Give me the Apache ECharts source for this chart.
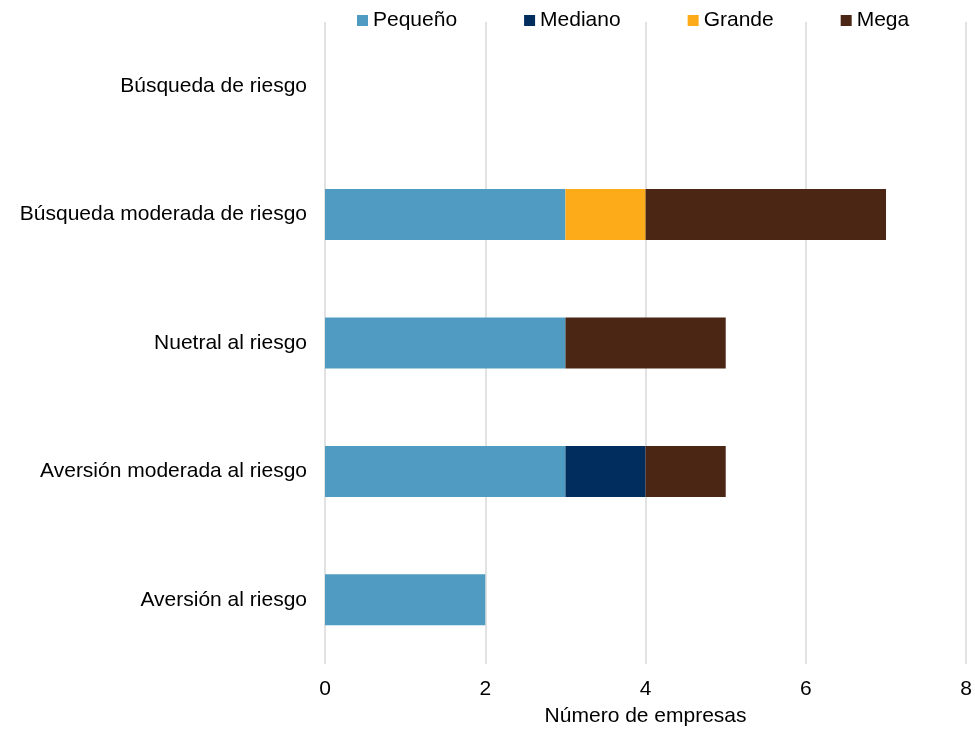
<!DOCTYPE html>
<html>
<head>
<meta charset="utf-8">
<script src="https://cdn.jsdelivr.net/npm/echarts@6/dist/echarts.min.js"></script>
<style>
  html, body { margin: 0; padding: 0; background: #fff; }
  #chart { width: 975px; height: 732px; }
</style>
</head>
<body>
<div id="chart"></div>
<script>
// Risk profile categories, listed top to bottom
const categories = [
  'Búsqueda de riesgo',
  'Búsqueda moderada de riesgo',
  'Nuetral al riesgo',
  'Aversión moderada al riesgo',
  'Aversión al riesgo'
];
// Number of companies per size group
const pequeno = [0, 3, 3, 3, 2];
const mediano = [0, 0, 0, 1, 0];
const grande  = [0, 1, 0, 0, 0];
const mega    = [0, 3, 2, 1, 0];

const seriesNames = ['Pequeño', 'Mediano', 'Grande', 'Mega'];
const seriesColors = ['#4F9BC2', '#002D5E', '#FDAB19', '#4B2614'];
const seriesData = [pequeno, mediano, grande, mega];

const font = '"Liberation Sans", Arial, sans-serif';
const fs = 21;

const chart = echarts.init(document.getElementById('chart'));
chart.setOption({
  animation: false,
  textStyle: { fontFamily: font },
  legend: {
    data: seriesNames,
    left: 352,
    top: 5,
    itemWidth: 11,
    itemHeight: 11,
    itemGap: 67,
    icon: 'rect',
    textStyle: { fontSize: fs, color: '#000', fontFamily: font }
  },
  grid: { left: 325, right: 5, top: 22, bottom: 65, containLabel: false },
  xAxis: {
    type: 'value',
    min: 0,
    max: 8,
    interval: 2,
    name: 'Número de empresas',
    nameLocation: 'middle',
    nameGap: 42,
    nameTextStyle: { fontSize: fs, color: '#000', fontFamily: font },
    axisLine: { show: false },
    axisTick: { show: false },
    axisLabel: { fontSize: fs, color: '#000', margin: 15, fontFamily: font },
    splitLine: { show: true, lineStyle: { color: '#D9D9D9', width: 1.5 } }
  },
  yAxis: {
    type: 'category',
    data: categories,
    inverse: true,
    axisLine: { show: false },
    axisTick: { show: false },
    axisLabel: { fontSize: fs, color: '#000', margin: 18, fontFamily: font },
    splitLine: { show: false }
  },
  series: seriesNames.map((name, i) => ({
    name: name,
    type: 'bar',
    stack: 'total',
    barWidth: 51,
    data: seriesData[i],
    itemStyle: { color: seriesColors[i] }
  }))
});
</script>
</body>
</html>
